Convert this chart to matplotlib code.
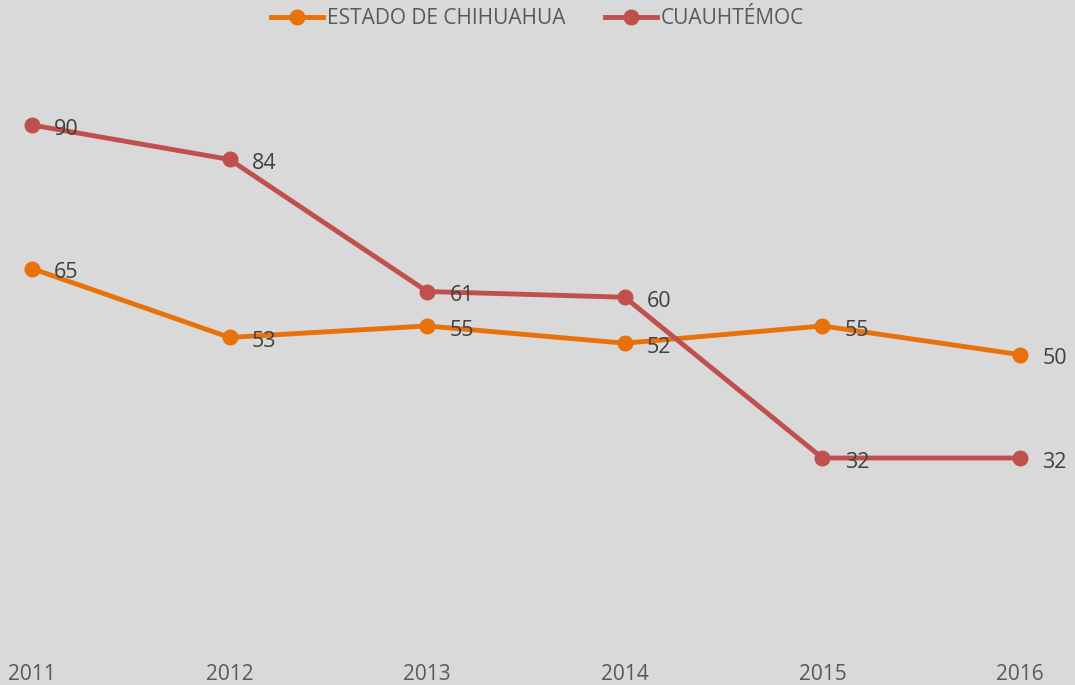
import matplotlib.pyplot as plt

years = ['2011', '2012', '2013', '2014', '2015', '2016']
chihuahua = [65, 53, 55, 52, 55, 50]
cuauhtemoc = [90, 84, 61, 60, 32, 32]

orange = '#E8710A'
red = '#C0504D'
bg = '#D9D9D9'

plt.rcParams['font.family'] = ['Open Sans', 'DejaVu Sans']

fig = plt.figure(figsize=(10.75, 6.85), dpi=100, facecolor=bg)
ax = fig.add_axes([32 / 1075, 0.0632, 988 / 1075, 0.8381], facecolor=bg)

x = range(len(years))
ax.plot(x, chihuahua, color=orange, lw=3.5, marker='o', ms=10.5,
        label='ESTADO DE CHIHUAHUA', clip_on=False, zorder=3)
ax.plot(x, cuauhtemoc, color=red, lw=3.5, marker='o', ms=10.5,
        label='CUAUHTÉMOC', clip_on=False, zorder=3)

for series in (chihuahua, cuauhtemoc):
    for i, v in enumerate(series):
        ax.annotate(str(v), (i, v), xytext=(16, -3), textcoords='offset points',
                    ha='left', va='center', fontsize=15.5, color='#404040', zorder=4)

ax.set_xlim(0, len(years) - 1)
ax.set_ylim(0, 100)
ax.set_xticks(list(x))
ax.set_xticklabels(years, fontsize=15, color='#595959')
ax.tick_params(axis='x', length=0, pad=16)
ax.set_yticks([])
for s in ax.spines.values():
    s.set_visible(False)

fig.legend(loc='upper center', bbox_to_anchor=(0.5, 1.015), ncol=2, frameon=False,
           fontsize=15, labelcolor='#595959', handlelength=2.5, handletextpad=0.2,
           columnspacing=1.9)

fig.savefig('out.png', dpi=100, facecolor=bg)
